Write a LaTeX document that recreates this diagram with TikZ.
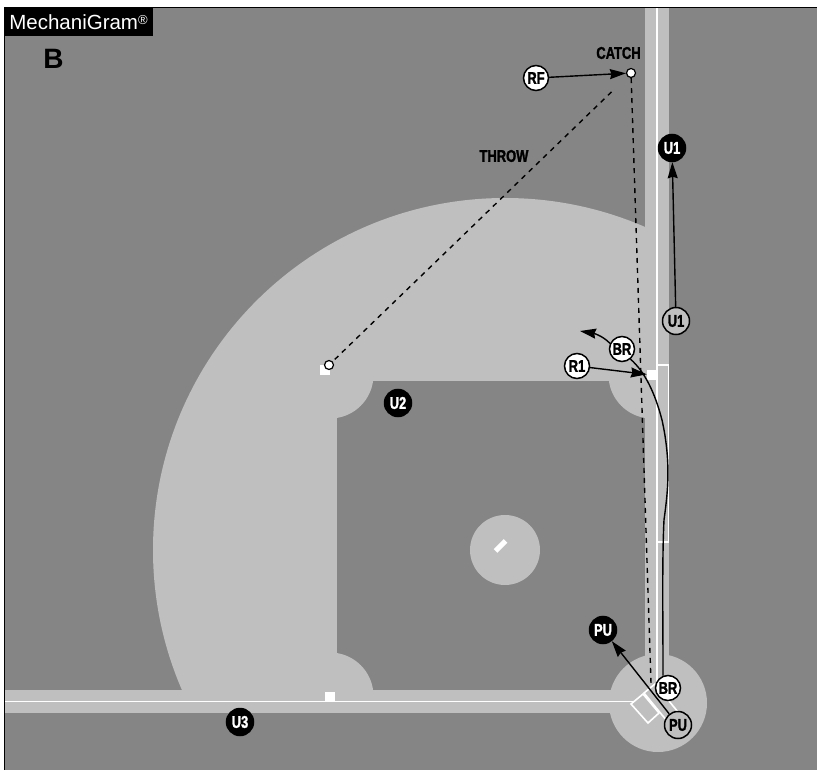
\documentclass[tikz,border=0pt]{standalone}
\usepackage{fontspec}
\usepackage{xcolor}
\usetikzlibrary{arrows.meta}
\setmainfont{Liberation Sans}
\newfontfamily\narrowfont[FakeStretch=0.76,BoldFeatures={FakeBold=1.5}]{Liberation Sans}
\definecolor{turf}{HTML}{858585}
\definecolor{dirt}{HTML}{BFBFBF}
\begin{document}
\begin{tikzpicture}[x=1pt, y=-1pt, >={Stealth[length=16pt,width=10pt,inset=1.5pt]},
  mark/.style={circle, draw=black, line width=1.5pt, inner sep=0pt, minimum size=#1, text=black, font=\narrowfont\bfseries\fontsize{17}{17}\selectfont},
  mark/.default=25pt,
  runner/.style={mark, fill=white},
  umpire/.style={mark=27pt, fill=dirt},
  crew/.style={mark=27pt, fill=black, text=white},
  spot/.style={mark=9pt, line width=1.2pt, fill=white},
  bag/.style={rectangle, fill=white, inner sep=0pt, minimum size=10pt},
  note/.style={inner sep=0pt, text=black, font=\narrowfont\bfseries\fontsize{17}{17}\selectfont},
  chalk/.style={draw=white, line width=1.6pt},
  path/.style={line width=1.4pt},
  throwline/.style={dash pattern=on 5pt off 5pt, line width=1.4pt}]
\useasboundingbox (0,0) rectangle (817,770);
\fill[turf] (4.5,7.5) rectangle (817,770);
\begin{scope}
\clip (4.5,7.5) rectangle (645,690);
\fill[dirt] (505,550) circle (352);
\end{scope}
\fill[turf] (337,381) rectangle (645,690);
\fill[dirt] (330,375) circle (43.5);
\begin{scope}
\clip (300,640) rectangle (400,695);
\fill[dirt] (330,696) circle (43.5);
\end{scope}
\begin{scope}
\clip (600,360) rectangle (650,430);
\fill[dirt] (652,375) circle (43.5);
\end{scope}
\fill[dirt] (505,550) circle (35);
\fill[dirt] (645,7.5) rectangle (669,700);
\fill[dirt] (4.5,690) rectangle (640,713);
\fill[dirt] (658,703) circle (49);
\draw[chalk] (657,7.5) -- (657,690);
\draw[chalk] (4.5,701.5) -- (633,701.5);
\draw[chalk] (657,365) rectangle (668.5,542);
\draw[chalk] (644,693) -- (655,684) -- (678,712) -- (667,721) -- cycle;
\draw[chalk] (631,704) -- (643,694) -- (659,713) -- (648,723) -- cycle;
\draw[white, line width=5pt] (495.5,551) -- (505.5,541);
\draw[black, line width=1.3pt] (4.5,770) -- (4.5,7.5) -- (817,7.5);
\node[bag] (second) at (325,370) {};
\node[bag] (first) at (652,375) {};
\node[bag] (third) at (330,696.5) {};
\node[spot] (catch) at (631,73) {};
\node[spot] (relay) at (329,365) {};
\node[runner] (rf) at (536,78) {RF};
\node[runner] (r1) at (577,366) {R1};
\node[runner] (brfirst) at (622,349) {BR};
\node[runner] (brhome) at (668,688) {BR};
\node[umpire] (u1start) at (676,321) {U1};
\node[umpire] (pustart) at (678,725) {PU};
\node[crew] (u1end) at (672,148) {U1};
\node[crew] (u2) at (398,403) {U2};
\node[crew] (u3) at (240,722) {U3};
\node[crew] (puend) at (603,630) {PU};
\node[note] (catchlabel) at (618.5,53) {CATCH};
\node[note] (throwlabel) at (504,156) {THROW};
\node[inner sep=0pt, fill=black, text=white, minimum width=149pt, minimum height=28.5pt, font=\fontsize{20.5}{20.5}\selectfont] (title) at (78.5,21.75) {MechaniGram\raisebox{5pt}{\fontsize{13}{13}\selectfont\textregistered}};
\node[inner sep=0pt, text=black, font=\bfseries\fontsize{28}{28}\selectfont] (panel) at (53.5,59) {B};
\coordinate (plate) at (651,683);
\draw[->, path] (rf) -- (catch);
\draw[->, path] (u1start) -- (u1end);
\draw[->, path] (r1) -- (first);
\draw[->, path] (pustart) -- (puend);
\draw[throwline, shorten <=22pt] (catch) -- (relay);
\draw[throwline] (catch) -- (plate);
\draw[path] (brhome.112) .. controls (663,620) and (662,560) .. (664,520) .. controls (667,497) and (672,465) .. (662,420) .. controls (655,393) and (645,372) .. (brfirst.-50);
\draw[->, path] (brfirst.155) .. controls (602,335) and (592,333) .. (580,331);
\end{tikzpicture}
\end{document}
